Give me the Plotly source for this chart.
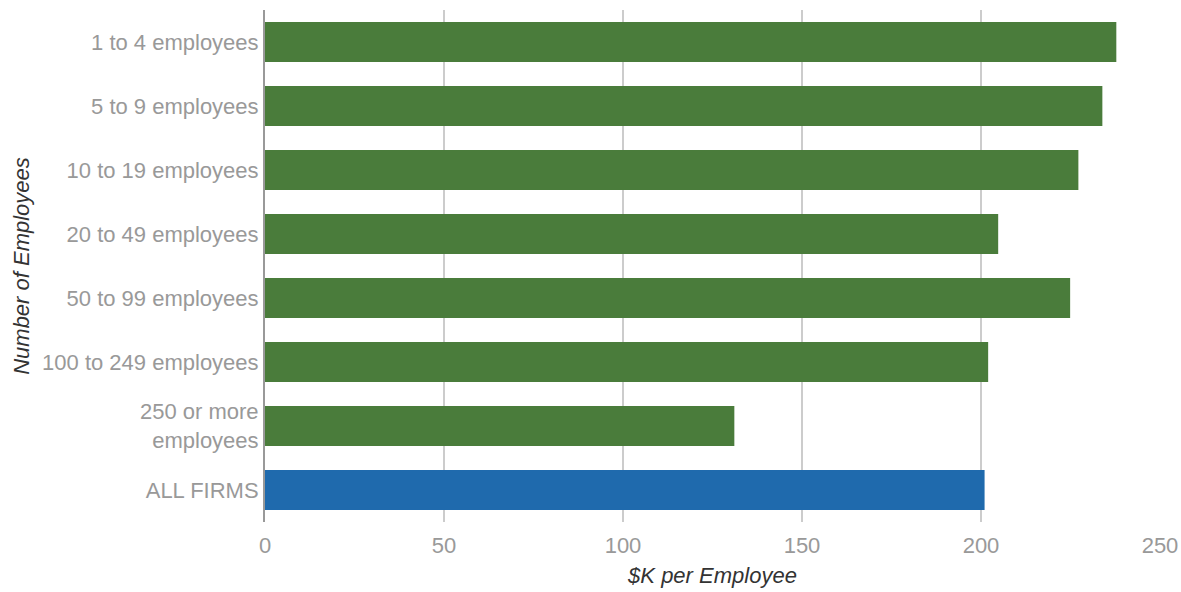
import plotly.graph_objects as go

categories = ["1 to 4 employees", "5 to 9 employees", "10 to 19 employees",
              "20 to 49 employees", "50 to 99 employees", "100 to 249 employees",
              "250 or more<br>employees", "ALL FIRMS"]
values = [237.8, 233.9, 227.2, 204.8, 224.9, 202.0, 131.1, 201.0]
colors = ["#4a7c3b"] * 7 + ["#1f6aad"]

fig = go.Figure(go.Bar(
    x=values, y=categories, orientation="h",
    marker=dict(color=colors, line=dict(width=0)),
    width=0.625,
))

font_family = "Liberation Sans, Arial, sans-serif"
fig.update_layout(
    width=1181, height=592,
    margin=dict(l=265, r=21, t=10, b=70),
    plot_bgcolor="white", paper_bgcolor="white",
    showlegend=False,
    font=dict(family=font_family, size=22, color="#999999"),
    xaxis=dict(
        range=[0, 250], tickvals=[0, 50, 100, 150, 200, 250],
        showgrid=True, gridcolor="#cccccc", gridwidth=2,
        zeroline=False, showline=False, ticks="",
        automargin=False, ticklabelstandoff=8,
        tickfont=dict(size=22, color="#999999"),
        title=dict(text="<i>$K per Employee</i>", font=dict(size=22, color="#333333"), standoff=10),
    ),
    yaxis=dict(
        autorange="reversed",
        showgrid=False, showline=True, linecolor="#999999", linewidth=2,
        ticks="", ticklabelstandoff=0,
        tickfont=dict(size=22, color="#999999"),
        title=dict(text="<i>Number of Employees</i>", font=dict(size=22, color="#333333"), standoff=6),
    ),
)

fig.write_html("out.html")
